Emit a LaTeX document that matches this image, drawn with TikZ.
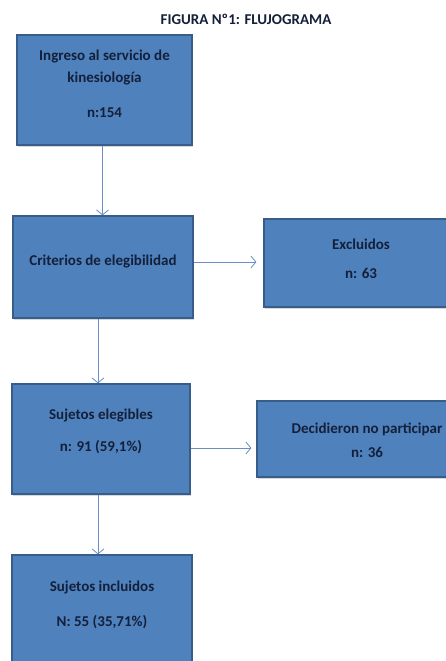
\documentclass[tikz,border=0pt]{standalone}
\usepackage{fontspec}
\setmainfont{Carlito}
\usetikzlibrary{arrows.meta,shadows}
\definecolor{boxfill}{HTML}{4F81BD}
\definecolor{boxline}{HTML}{385D8A}
\definecolor{flowline}{HTML}{6A8FC4}
\definecolor{boxtext}{HTML}{14203A}

\begin{document}
\begin{tikzpicture}[x=1pt, y=-1pt,
  box/.style={draw=boxline, line width=1.2pt, fill=boxfill, inner sep=0pt,
    drop shadow={shadow xshift=1pt, shadow yshift=-1.5pt, opacity=0.3}},
  txt/.style={text=boxtext, font=\bfseries\fontsize{15}{22}\selectfont, align=center},
  flow/.style={draw=flowline, line width=0.8pt, -{Straight Barb[length=5pt,width=12pt]}}]
 \useasboundingbox (0,0) rectangle (445,661);
 \fill[white] (0,0) rectangle (445,661);

 \node[txt] (titulo) at (246,19) {FIGURA Nº1: FLUJOGRAMA};

 % cajas
 \node[box, minimum width=175pt, minimum height=110pt] (ingreso) at (104.5,90) {};
 \node[box, minimum width=180pt, minimum height=102pt] (criterios) at (103,267) {};
 \node[box, minimum width=196pt, minimum height=88pt] (excluidos) at (362,263) {};
 \node[box, minimum width=178pt, minimum height=110pt] (elegibles) at (101,439) {};
 \node[box, minimum width=220pt, minimum height=76pt] (decidieron) at (367,439) {};
 \node[box, minimum width=180pt, minimum height=125pt] (incluidos) at (102,617.5) {};

 % textos
 \node[txt] (ingresotxt) at (104.5,83.5) {Ingreso al servicio de\\kinesiología\\[13pt]n:154};
 \node[txt] (criteriostxt) at (103,262) {Criterios de elegibilidad};
 \node[txt] (excluidostxt) at (361,258.5) {Excluidos\\[7pt]n: 63};
 \node[txt] (elegiblestxt) at (101,431) {Sujetos elegibles\\[10pt]n: 91 (59,1\%)};
 \node[txt] (decidierontxt) at (367,440) {Decidieron no participar\\[2pt]n: 36};
 \node[txt] (incluidostxt) at (102,604.5) {Sujetos incluidos\\[13pt]N: 55 (35,71\%)};

 % flechas
 \coordinate (a1) at ([xshift=-2pt]ingreso.south);
 \coordinate (a2) at ([xshift=-5pt]criterios.south);
 \coordinate (a3) at ([xshift=-3pt]elegibles.south);
 \coordinate (h1) at ([yshift=5pt]criterios.east);
 \coordinate (h2) at ([yshift=-9pt]elegibles.east);
 \draw[flow] (a1) -- (a1 |- criterios.north);
 \draw[flow] (a2) -- (a2 |- elegibles.north);
 \draw[flow] (a3) -- (a3 |- incluidos.north);
 \draw[flow, shorten >=7pt] (h1) -- (h1 -| excluidos.west);
 \draw[flow, shorten >=5pt] (h2) -- (h2 -| decidieron.west);
\end{tikzpicture}
\end{document}
